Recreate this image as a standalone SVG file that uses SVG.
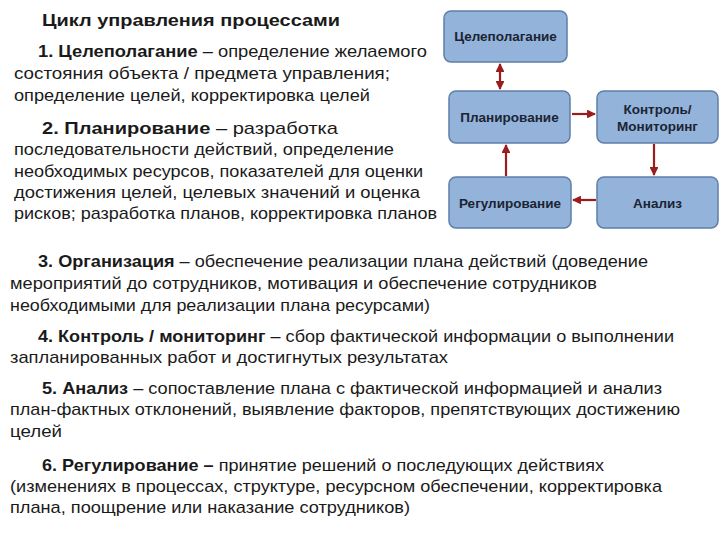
<svg xmlns="http://www.w3.org/2000/svg" width="720" height="540" viewBox="0 0 720 540">
<style>
text{font-family:"Liberation Sans",Arial,sans-serif;fill:#1a1a1a}
.t{font-size:17px}
.h{font-size:16px;font-weight:bold}
.b{font-weight:bold}
.box{fill:#93b3da;stroke:#5f7fa8;stroke-width:1.5}
.nl{font-size:13.5px;font-weight:bold;fill:#1b2433;text-anchor:middle}
.c{stroke:#9b1c1c;stroke-width:2.2;fill:none}
</style>
<defs>
<marker id="a" viewBox="0 0 10 10" refX="9" refY="5" markerWidth="4" markerHeight="4" orient="auto-start-reverse"><path d="M0,0L10,5L0,10z" fill="#9b1c1c"/></marker>
</defs>
<rect width="720" height="540" fill="#fff"/>
<text x="42" y="26" class="h" textLength="298" lengthAdjust="spacingAndGlyphs">Цикл управления процессами</text>
<text class="t" x="38" y="57" textLength="389" lengthAdjust="spacingAndGlyphs"><tspan class="b">1. Целеполагание</tspan> – определение желаемого</text>
<text class="t" x="14" y="79" textLength="376" lengthAdjust="spacingAndGlyphs">состояния объекта / предмета управления;</text>
<text class="t" x="14" y="101" textLength="356" lengthAdjust="spacingAndGlyphs">определение целей, корректировка целей</text>
<text class="t" x="42" y="134" textLength="296" lengthAdjust="spacingAndGlyphs"><tspan class="b">2. Планирование</tspan> – разработка</text>
<text class="t" x="14" y="155" textLength="380" lengthAdjust="spacingAndGlyphs">последовательности действий, определение</text>
<text class="t" x="14" y="177" textLength="409" lengthAdjust="spacingAndGlyphs">необходимых ресурсов, показателей для оценки</text>
<text class="t" x="14" y="198" textLength="406" lengthAdjust="spacingAndGlyphs">достижения целей, целевых значений и оценка</text>
<text class="t" x="14" y="219" textLength="423" lengthAdjust="spacingAndGlyphs">рисков; разработка планов, корректировка планов</text>
<text class="t" x="38" y="267" textLength="610" lengthAdjust="spacingAndGlyphs"><tspan class="b">3. Организация</tspan> – обеспечение реализации плана действий (доведение</text>
<text class="t" x="10" y="289" textLength="587" lengthAdjust="spacingAndGlyphs">мероприятий до сотрудников, мотивация и обеспечение сотрудников</text>
<text class="t" x="10" y="311" textLength="420" lengthAdjust="spacingAndGlyphs">необходимыми для реализации плана ресурсами)</text>
<text class="t" x="38" y="342" textLength="636" lengthAdjust="spacingAndGlyphs"><tspan class="b">4. Контроль / мониторинг</tspan> – сбор фактической информации о выполнении</text>
<text class="t" x="10" y="363" textLength="438" lengthAdjust="spacingAndGlyphs">запланированных работ и достигнутых результатах</text>
<text class="t" x="42" y="394" textLength="620" lengthAdjust="spacingAndGlyphs"><tspan class="b">5. Анализ</tspan>  – сопоставление плана с фактической информацией и анализ</text>
<text class="t" x="10" y="415" textLength="670" lengthAdjust="spacingAndGlyphs">план-фактных отклонений, выявление факторов, препятствующих достижению</text>
<text class="t" x="10" y="437" textLength="52" lengthAdjust="spacingAndGlyphs">целей</text>
<text class="t" x="42" y="471" textLength="562" lengthAdjust="spacingAndGlyphs"><tspan class="b">6. Регулирование –</tspan> принятие решений о последующих действиях</text>
<text class="t" x="10" y="492" textLength="652" lengthAdjust="spacingAndGlyphs">(изменениях в процессах, структуре, ресурсном обеспечении, корректировка</text>
<text class="t" x="10" y="513" textLength="400" lengthAdjust="spacingAndGlyphs">плана, поощрение или наказание сотрудников)</text>
<g id="n1"><rect class="box" x="444" y="11" width="123" height="51" rx="7"/><text class="nl" x="505.5" y="41">Целеполагание</text></g>
<g id="n2"><rect class="box" x="449" y="91" width="121" height="52" rx="7"/><text class="nl" x="509.5" y="122">Планирование</text></g>
<g id="n3"><rect class="box" x="597" y="91" width="121" height="52" rx="7"/><text class="nl" x="657.5" y="114">Контроль/</text><text class="nl" x="657.5" y="131">Мониторинг</text></g>
<g id="n4"><rect class="box" x="449" y="177" width="122" height="51" rx="7"/><text class="nl" x="510" y="208">Регулирование</text></g>
<g id="n5"><rect class="box" x="597" y="177" width="121" height="51" rx="7"/><text class="nl" x="657.5" y="208">Анализ</text></g>
<g id="connectors">
<line class="c" x1="500" y1="64" x2="500" y2="89" marker-start="url(#a)" marker-end="url(#a)"/>
<line class="c" x1="572" y1="114" x2="595" y2="114" marker-end="url(#a)"/>
<line class="c" x1="654" y1="144" x2="654" y2="175" marker-end="url(#a)"/>
<line class="c" x1="596" y1="200" x2="573" y2="200" marker-end="url(#a)"/>
<line class="c" x1="506" y1="176" x2="506" y2="145" marker-end="url(#a)"/>
</g>
</svg>
